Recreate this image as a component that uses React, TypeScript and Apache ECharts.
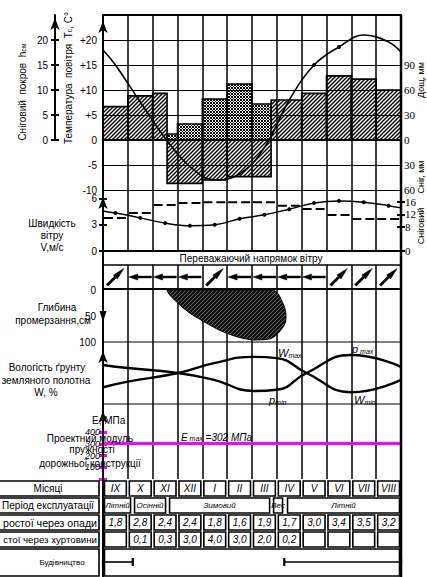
import React, { useEffect, useRef } from 'react';
import * as echarts from 'echarts';

const FONT = '"Liberation Sans", Arial, sans-serif';
const SERIF = '"Liberation Serif", "DejaVu Serif", serif';

// ---- months ----
const months = ['IX', 'X', 'XI', 'XII', 'I', 'II', 'III', 'IV', 'V', 'VI', 'VII', 'VIII'];

// ---- tick labels ----
const tempTicks = [-10, -5, 0, 5, 10, 15, 20];
const precipTicks = [-60, -30, 0, 30, 60, 90];
const coverTicks = [0, 5, 10, 15, 20];
const windTicks = [0, 3, 6];
const windSnowTicks = [0, 8, 12, 16];
const frostTicks = [0, 50, 100];
const eTicks = [100, 200, 300, 400];
const eTickMarks = [0, 100, 200, 300, 400];

// ---- air temperature (month position, °C) ----
const tempPos = [0, 0.5, 1.5, 2.5, 3.5, 4.5, 5.5, 6.5, 7.5, 8.5, 9.5, 10.5, 11.5, 12];
const tempC = [18, 15, 7.6, 0.4, -5.3, -8, -6.8, -1.5, 8, 15, 18.6, 21, 19.6, 17.6];

// ---- rain, mm ----
const rainFrom = [0, 1, 2, 6.77, 8, 9, 10, 11];
const rainTo = [1, 2, 2.58, 8, 9, 10, 11, 12];
const rainMm = [40, 53, 56, 48, 56, 77, 73, 60];

// ---- snow, mm ----
const snowFrom = [2.58, 4, 5];
const snowTo = [4, 5, 6.77];
const snowMm = [52, 48, 44];

// ---- snow cover, cm ----
const coverFrom = [2.58, 3, 4, 5, 6];
const coverTo = [3, 4, 5, 6, 6.77];
const coverCm = [1.2, 3.2, 8.2, 11.2, 7.2];

// ---- wind ----
const windPos = [0, 0.5, 1.5, 2.5, 3.5, 4.5, 5.5, 6.5, 7.5, 8.5, 9.5, 10.5, 11.5, 12];
const windSpeed = [4.6, 4.35, 3.8, 3.2, 2.9, 3.0, 3.7, 4.15, 4.8, 5.5, 5.75, 5.6, 5.2, 4.95];
const windSnow = [10.8, 12.5, 15.1, 15.7, 16, 16, 16, 14.8, 13.8, 11.8, 10.5, 10.5];
const windDirDeg = [45, 180, 180, 180, 45, 180, 180, 180, 180, 45, 45, 45];

// ---- frost depth outline (month position, cm) ----
const frostMonth = [2.58, 3.22, 4.03, 5.03, 6.04, 6.73, 7.21, 7.37, 7.25, 6.85, 5.9, 4.7, 3.5];
const frostCm = [0, 34, 60, 84, 96, 94, 74, 54, 26, 0, 0, 0, 0];

// ---- soil moisture (relative) ----
const moistPos = [0, 1, 3.02, 4.47, 6.08, 7.0, 8.2, 10.0, 12];
const moistW = [27, 36, 50, 66, 76, 74, 50, 19, 39];
const moistP = [63, 58, 50, 39, 21, 23, 50, 79, 60];

// ---- design modulus ----
const eMax = 302;

// ---- table ----
const periodFrom = [0, 1.21, 2.62, 6.81, 7.37];
const periodTo = [1.17, 2.58, 6.77, 7.29, 12];
const periodName = ['Літній', 'Осінній', 'Зимовий', 'Вес', 'Літній'];
const rainDowntime = ['1,8', '2,8', '2,4', '2,4', '1,8', '1,6', '1,9', '1,7', '3,0', '3,4', '3,5', '3,2'];
const stormDowntime = ['', '0,1', '0,3', '3,0', '4,0', '3,0', '2,0', '0,2', '', '', '', ''];
const buildFrom = [0, 7.3];
const buildTo = [1.2, 12];
const rowLabels = ['Місяці', 'Період експлуатації', 'ростої через опади', 'стої через хуртовини', 'Будівництво'];

function tile(draw: (g: CanvasRenderingContext2D) => void, w: number, h: number): any {
  const c = document.createElement('canvas');
  c.width = w;
  c.height = h;
  const g = c.getContext('2d') as CanvasRenderingContext2D;
  draw(g);
  return { image: c.toDataURL(), repeat: 'repeat', imageWidth: w, imageHeight: h };
}

function buildOption(): any {
  const hatch = tile((g) => {
    g.strokeStyle = '#000';
    g.lineWidth = 1.4;
    g.beginPath();
    g.moveTo(0, 4); g.lineTo(4, 0);
    g.moveTo(-1, 1); g.lineTo(1, -1);
    g.moveTo(3, 5); g.lineTo(5, 3);
    g.stroke();
  }, 4, 4);
  const checker = tile((g) => {
    g.fillStyle = '#000';
    g.fillRect(0, 0, 2, 2);
    g.fillRect(2, 2, 1, 1);
  }, 3, 3);
  const frostFill = tile((g) => {
    g.fillStyle = '#111';
    g.fillRect(0, 0, 4, 4);
    g.strokeStyle = '#777';
    g.lineWidth = 0.8;
    g.beginPath();
    g.moveTo(0, 4); g.lineTo(4, 0);
    g.stroke();
  }, 4, 4);

  const lbl = { color: '#000', fontFamily: FONT, fontSize: 10 };

  const grids = [
    { left: 103, top: 15, width: 298, height: 175 },
    { left: 55, top: 15, width: 1, height: 125 },
    { left: 103, top: 190, width: 298, height: 61 },
    { left: 103, top: 265, width: 298, height: 24 },
    { left: 103, top: 290, width: 298, height: 52 },
    { left: 103, top: 342, width: 298, height: 62 },
    { left: 103, top: 404, width: 298, height: 75 },
    { left: 103, top: 480, width: 298, height: 97 },
  ];
  const vLines = [true, false, true, true, true, true, true, false];
  const xAxis = grids.map((_, g) => ({
    gridIndex: g, type: 'value', min: 0, max: g === 1 ? 1 : 12, interval: 1,
    axisLine: { show: false }, axisTick: { show: false }, axisLabel: { show: false },
    splitLine: { show: vLines[g], lineStyle: { color: '#000', width: 1.5 } },
  }));

  const hiddenY = (g: number, min: number, max: number, extra: any = {}) => ({ gridIndex: g, type: 'value', min, max, show: false, ...extra });
  const arrowLine = (offset: number) => ({ show: true, symbol: ['none', 'arrow'], symbolSize: [7, 12], symbolOffset: [0, offset], lineStyle: { color: '#000', width: 2 } });
  const insideTicks = (g: number, min: number, max: number, interval: number, vals: number[], pos: string, color = '#000', width = 2) => ({
    gridIndex: g, type: 'value', min, max, interval, position: pos,
    axisLine: { show: false }, axisLabel: { show: false }, splitLine: { show: false },
    axisTick: { show: true, inside: true, length: 4, customValues: vals, lineStyle: { color, width } },
  });

  const yAxis: any[] = [
    // 0 temperature
    {
      gridIndex: 0, type: 'value', min: -10, max: 25, interval: 5, position: 'left',
      axisLine: arrowLine(-6), axisTick: { show: false },
      axisLabel: { ...lbl, margin: 6, formatter: (v: number) => (tempTicks.includes(v) ? (v > 0 ? '+' + v : String(v)) : '') },
      splitLine: { show: true, lineStyle: { color: '#000', width: 1 } },
    },
    // 1 precipitation
    {
      gridIndex: 0, type: 'value', min: -60, max: 150, interval: 30, position: 'right',
      axisLine: { show: true, lineStyle: { color: '#000', width: 2 } }, axisTick: { show: false },
      axisLabel: { ...lbl, fontFamily: SERIF, fontSize: 11, margin: 3, formatter: (v: number) => (precipTicks.includes(v) ? String(Math.abs(v)) : '') },
      splitLine: { show: false },
    },
    // 2 snow cover scale for bars
    hiddenY(0, -10, 25),
    // 3 snow cover visible axis
    {
      gridIndex: 1, type: 'value', min: 0, max: 25, interval: 5, position: 'left',
      axisLine: arrowLine(-3),
      axisTick: { show: true, length: 4, customValues: coverTicks, lineStyle: { color: '#000', width: 2 } },
      axisLabel: { ...lbl, margin: 7, formatter: (v: number) => (coverTicks.includes(v) ? String(v) : '') },
      splitLine: { show: false },
    },
    // 4
    insideTicks(1, 0, 25, 5, coverTicks, 'left'),
    // 5 wind speed
    {
      gridIndex: 2, type: 'value', min: 0, max: 7, interval: 1, position: 'left',
      axisLine: arrowLine(-7),
      axisTick: { show: true, length: 4, customValues: windTicks, lineStyle: { color: '#000', width: 2 } },
      axisLabel: { ...lbl, margin: 6, formatter: (v: number) => (windTicks.includes(v) ? String(v) : '') },
      splitLine: { show: false },
    },
    // 6
    insideTicks(2, 0, 7, 1, windTicks, 'left'),
    // 7 wind right
    {
      gridIndex: 2, type: 'value', min: 0, max: 20, interval: 4, position: 'right',
      axisLine: { show: true, lineStyle: { color: '#000', width: 2 } },
      axisTick: { show: true, length: 4, customValues: windSnowTicks, lineStyle: { color: '#000', width: 2 } },
      axisLabel: { ...lbl, fontFamily: SERIF, fontSize: 11, margin: 4, formatter: (v: number) => (windSnowTicks.includes(v) ? String(v) : '') },
      splitLine: { show: false },
    },
    // 8
    insideTicks(2, 0, 20, 4, windSnowTicks, 'right'),
    // 9 direction row
    hiddenY(3, 0, 1),
    // 10 frost depth
    {
      gridIndex: 4, type: 'value', inverse: true, min: 0, max: 100, interval: 50, position: 'left',
      axisLine: { show: false }, axisTick: { show: false },
      axisLabel: { ...lbl, margin: 7, formatter: (v: number) => (frostTicks.includes(v) ? String(v) : '') },
      splitLine: { show: false },
    },
    // 11 moisture
    {
      gridIndex: 5, type: 'value', min: 0, max: 100, position: 'left',
      axisLine: arrowLine(-9), axisTick: { show: false }, axisLabel: { show: false }, splitLine: { show: false },
    },
    // 12 E modulus
    {
      gridIndex: 6, type: 'value', min: 0, max: 640, interval: 100, position: 'left',
      axisLine: arrowLine(-7),
      axisTick: { show: true, length: 4, customValues: eTickMarks, lineStyle: { color: '#ff00ff', width: 3 } },
      axisLabel: { ...lbl, fontSize: 9, fontStyle: 'italic', margin: 3, formatter: (v: number) => (eTicks.includes(v) ? String(v) : '') },
      splitLine: { show: false },
    },
    // 13
    insideTicks(6, 0, 640, 100, eTickMarks, 'left', '#ff00ff', 3),
    // 14 table
    hiddenY(7, 0, 97, { inverse: true }),
  ];

  const barItem = (fill: any) => (params: any, api: any) => {
    const a = api.coord([api.value(0), api.value(2)]);
    const b = api.coord([api.value(1), 0]);
    return {
      type: 'rect',
      shape: { x: Math.min(a[0], b[0]), y: Math.min(a[1], b[1]), width: Math.abs(b[0] - a[0]), height: Math.abs(b[1] - a[1]) },
      style: { fill, stroke: '#000', lineWidth: 1.6 },
    };
  };

  const textStyle = (text: string, x: number, y: number, size: number, italic: boolean, extra: any = {}) => ({
    text, x, y, fill: '#000', fontFamily: FONT, fontSize: size, fontStyle: italic ? 'italic' : 'normal',
    align: 'center', verticalAlign: 'middle', textAlign: 'center', textVerticalAlign: 'middle', ...extra,
  });

  const rowTop = [1, 18, 35, 52, 69];
  const rowH = [15, 15, 15, 15, 27];

  const cellSeries = (from: number[], to: number[], texts: string[], row: number, size: number) => ({
    type: 'custom', xAxisIndex: 7, yAxisIndex: 14, silent: true, z: 3,
    data: from.map((f, i) => [f, to[i]]),
    renderItem: (params: any, api: any) => {
      const a = api.coord([api.value(0), rowTop[row]]);
      const b = api.coord([api.value(1), rowTop[row] + rowH[row]]);
      const t = texts[params.dataIndex] || '';
      return {
        type: 'group',
        children: [
          { type: 'rect', shape: { x: a[0] + 1.5, y: a[1], width: b[0] - a[0] - 3, height: b[1] - a[1] }, style: { fill: '#fff', stroke: '#000', lineWidth: 1.6 } },
          { type: 'text', style: textStyle(t, (a[0] + b[0]) / 2, (a[1] + b[1]) / 2, size, true) },
        ],
      };
    },
  });

  const monthFrom = months.map((_, i) => i);
  const monthTo = months.map((_, i) => i + 1);

  const series: any[] = [
    { type: 'custom', name: 'rain', xAxisIndex: 0, yAxisIndex: 1, z: 2, data: rainFrom.map((f, i) => [f, rainTo[i], rainMm[i]]), renderItem: barItem(hatch) },
    { type: 'custom', name: 'snow', xAxisIndex: 0, yAxisIndex: 1, z: 2, data: snowFrom.map((f, i) => [f, snowTo[i], -snowMm[i]]), renderItem: barItem(hatch) },
    { type: 'custom', name: 'cover', xAxisIndex: 0, yAxisIndex: 2, z: 2, data: coverFrom.map((f, i) => [f, coverTo[i], coverCm[i]]), renderItem: barItem(checker) },
    {
      type: 'line', name: 'temp', xAxisIndex: 0, yAxisIndex: 0, z: 5, smooth: 0.4,
      data: tempPos.map((x, i) => ({ value: [x, tempC[i]], symbol: i === 9 || i === 10 ? 'circle' : 'none' })),
      symbolSize: 4, itemStyle: { color: '#000' }, lineStyle: { color: '#000', width: 1.6 },
    },
    {
      type: 'line', name: 'wind', xAxisIndex: 2, yAxisIndex: 5, z: 5, smooth: 0.4,
      data: windPos.map((x, i) => ({ value: [x, windSpeed[i]], symbol: i === 0 || i === windPos.length - 1 ? 'none' : 'circle' })),
      symbolSize: 4, itemStyle: { color: '#000' }, lineStyle: { color: '#000', width: 1.5 },
    },
    {
      type: 'custom', name: 'windSnow', xAxisIndex: 2, yAxisIndex: 7, z: 4,
      data: windSnow.map((v, i) => [i, v]),
      renderItem: (params: any, api: any) => {
        const a = api.coord([api.value(0), api.value(1)]);
        const b = api.coord([api.value(0) + 1, api.value(1)]);
        return { type: 'line', shape: { x1: a[0] + 1, y1: a[1], x2: b[0] - 1, y2: b[1] }, style: { stroke: '#000', lineWidth: 2, lineDash: [9, 4] } };
      },
    },
    {
      type: 'custom', name: 'dir', xAxisIndex: 3, yAxisIndex: 9, z: 4,
      data: windDirDeg.map((d, i) => [i, d]),
      renderItem: (params: any, api: any) => {
        const ang = (api.value(1) * Math.PI) / 180;
        const c = api.coord([api.value(0) + 0.5, 0.5]);
        const horizontal = Math.abs(Math.sin(ang)) < 0.1;
        const half = horizontal ? 11.5 : 12;
        const dx = Math.cos(ang);
        const dy = -Math.sin(ang);
        const tip = [c[0] + dx * half, c[1] + dy * half];
        const tail = [c[0] - dx * half, c[1] - dy * half];
        const head = horizontal ? 9 : 12;
        const hw = horizontal ? 3 : 2.8;
        const base = [tip[0] - dx * head, tip[1] - dy * head];
        const nx = -dy;
        const ny = dx;
        return {
          type: 'group',
          children: [
            { type: 'line', shape: { x1: tail[0], y1: tail[1], x2: base[0], y2: base[1] }, style: { stroke: '#000', lineWidth: horizontal ? 2.4 : 2.8 } },
            { type: 'polygon', shape: { points: [tip, [base[0] + nx * hw, base[1] + ny * hw], [base[0] - nx * hw, base[1] - ny * hw]] }, style: { fill: '#000', stroke: '#000', lineWidth: 0.5 } },
          ],
        };
      },
    },
    {
      type: 'custom', name: 'frost', xAxisIndex: 4, yAxisIndex: 10, z: 3,
      data: frostMonth.map((m, i) => [m, frostCm[i]]),
      renderItem: (params: any, api: any) => {
        if (params.dataIndex !== 0) return null;
        const pts = frostMonth.map((m, i) => api.coord([m, frostCm[i]]));
        const xs = pts.map((p: number[]) => p[0]);
        const ys = pts.map((p: number[]) => p[1]);
        const box = [[Math.min(...xs), Math.min(...ys)], [Math.max(...xs), Math.max(...ys)]];
        return { type: 'polygon', shape: { points: pts, smooth: 0.4, smoothConstraint: box }, style: { fill: frostFill, stroke: '#000', lineWidth: 1 } };
      },
    },
    {
      type: 'line', name: 'W', xAxisIndex: 5, yAxisIndex: 11, z: 4, smooth: 0.5, showSymbol: false,
      data: moistPos.map((x, i) => [x, moistW[i]]), lineStyle: { color: '#000', width: 2.4 },
    },
    {
      type: 'line', name: 'p', xAxisIndex: 5, yAxisIndex: 11, z: 4, smooth: 0.5, showSymbol: false,
      data: moistPos.map((x, i) => [x, moistP[i]]), lineStyle: { color: '#000', width: 2.4 },
    },
    {
      type: 'line', name: 'Emax', xAxisIndex: 6, yAxisIndex: 12, z: 4, showSymbol: false,
      data: [[0, eMax], [12, eMax]], lineStyle: { color: '#ff00ff', width: 3 },
    },
    cellSeries(monthFrom, monthTo, months, 0, 10),
    cellSeries(periodFrom, periodTo, periodName, 1, 8),
    cellSeries(monthFrom, monthTo, rainDowntime, 2, 10),
    cellSeries(monthFrom, monthTo, stormDowntime, 3, 10),
    cellSeries([0], [12], [''], 4, 10),
    {
      type: 'custom', name: 'build', xAxisIndex: 7, yAxisIndex: 14, z: 5,
      data: buildFrom.map((f, i) => [f, buildTo[i]]),
      renderItem: (params: any, api: any) => {
        const a = api.coord([api.value(0), 82]);
        const b = api.coord([api.value(1), 82]);
        return {
          type: 'group',
          children: [
            { type: 'line', shape: { x1: a[0], y1: a[1], x2: b[0], y2: b[1] }, style: { stroke: '#000', lineWidth: 1.6 } },
            { type: 'line', shape: { x1: a[0], y1: a[1] - 4, x2: a[0], y2: a[1] + 4 }, style: { stroke: '#000', lineWidth: 2.2 } },
            { type: 'line', shape: { x1: b[0], y1: b[1] - 4, x2: b[0], y2: b[1] + 4 }, style: { stroke: '#000', lineWidth: 2.2 } },
          ],
        };
      },
    },
  ];

  const line = (x1: number, y1: number, x2: number, y2: number, w: number, color = '#000') => ({
    type: 'line', z: 15, silent: true, shape: { x1, y1, x2, y2 }, style: { stroke: color, lineWidth: w },
  });
  const txt = (text: string, x: number, y: number, size: number, opts: any = {}) => {
    const style: any = {
      text, x: 0, y: 0, fill: '#000', fontFamily: opts.family || FONT, fontSize: size,
      fontStyle: opts.italic ? 'italic' : 'normal',
      align: opts.align || 'center', textAlign: opts.align || 'center',
      verticalAlign: 'middle', textVerticalAlign: 'middle',
    };
    if (opts.rich) style.rich = opts.rich;
    return { type: 'text', z: 20, silent: true, x, y, rotation: opts.rotation || 0, style };
  };
  const sub = (size: number, italic = false) => ({
    b: { fill: '#000', fontSize: size, fontFamily: FONT, fontStyle: italic ? 'italic' : 'normal', verticalAlign: 'bottom' },
    s: { fill: '#000', fontSize: Math.round(size * 0.65), fontFamily: FONT, fontStyle: italic ? 'italic' : 'normal', verticalAlign: 'bottom' },
    n: { fill: '#000', fontSize: size, fontFamily: FONT, fontStyle: italic ? 'italic' : 'normal', verticalAlign: 'bottom' },
  });

  const rowAbsTop = rowTop.map((t) => 480 + t);
  const tableLeft: any[] = [];
  rowLabels.forEach((t, i) => {
    tableLeft.push({ type: 'rect', z: 12, silent: true, shape: { x: -3, y: rowAbsTop[i], width: 102, height: rowH[i] }, style: { fill: '#fff', stroke: '#000', lineWidth: 1.6 } });
  });
  const labelX = [48, 48, 97, 97, 62];
  const labelAlign = ['center', 'center', 'right', 'right', 'center'];
  const labelSize = [10, 10, 10.6, 9.7, 8];
  rowLabels.forEach((t, i) => {
    tableLeft.push(txt(t, labelX[i], rowAbsTop[i] + rowH[i] / 2, labelSize[i], { align: labelAlign[i] }));
  });

  const graphic: any[] = [
    line(103, 15, 103, 577, 2),
    line(401, 15, 401, 577, 2.5),
    line(103, 15, 401, 15, 2),
    line(103, 140, 401, 140, 2),
    line(103, 251, 401, 251, 2),
    line(103, 265, 401, 265, 1.5),
    line(103, 289, 401, 289, 2),
    line(103, 342, 401, 342, 1),
    line(103, 404, 401, 404, 1),
    { type: 'polygon', z: 16, silent: true, shape: { points: [[99.5, 311], [106.5, 311], [103, 322]] }, style: { fill: '#000' } },
    // rotated titles
    txt('{n|Сніговий  покров  h}{s|см}', 22, 92, 10, { rotation: Math.PI / 2, rich: sub(10) }),
    txt('{n|Температура  повітря  T}{s|c}{n|, C°}', 68, 78, 10, { rotation: Math.PI / 2, rich: sub(10) }),
    txt('Дощ, мм', 421, 80, 9, { rotation: Math.PI / 2 }),
    txt('Сніг, мм', 421, 177, 9, { rotation: Math.PI / 2 }),
    txt('Сніговий', 421, 226, 9, { rotation: Math.PI / 2 }),
    // wind
    txt('Швидкість', 52, 223, 10),
    txt('вітру', 52, 235, 10),
    txt('V,м/с', 52, 247, 10),
    txt('Переважаючий напрямок вітру', 251, 258, 10),
    // frost
    txt('Глибина', 57, 307, 10),
    txt('промерзання,см', 53, 320, 10),
    // moisture
    txt('Вологість ґрунту', 47, 367, 10),
    txt('земляного полотна', 46, 380, 10),
    txt('W, %', 46, 392, 10),
    txt('{b|W}{s|max}', 278, 353, 11, { align: 'left', rich: sub(11, true) }),
    txt('{b|p}{s|min}', 269, 400, 11, { align: 'left', rich: sub(11, true) }),
    txt('{b|p}{s| max}', 352, 349, 11, { align: 'left', rich: sub(11, true) }),
    txt('{b|W}{s|min}', 354, 400, 11, { align: 'left', rich: sub(11, true) }),
    // modulus
    txt('E, МПа', 92, 420, 10, { align: 'left' }),
    txt('Проектний модуль', 90, 438, 10),
    txt('пружності', 92, 449, 10),
    txt('дорожньої конструкції', 90, 463, 10),
    txt('{b|E}{s| max}{n| =' + eMax + ' МПа}', 181, 437, 10, { align: 'left', italic: true, rich: sub(10, true) }),
    ...tableLeft,
  ];

  return {
    animation: false,
    backgroundColor: '#fff',
    textStyle: { fontFamily: FONT },
    grid: grids,
    xAxis,
    yAxis,
    series,
    graphic,
  };
}

export default function App() {
  const ref = useRef<HTMLDivElement>(null);
  useEffect(() => {
    document.body.style.margin = '0';
    const chart = echarts.init(ref.current as HTMLDivElement, null, { renderer: 'svg' });
    chart.setOption(buildOption());
    return () => chart.dispose();
  }, []);
  return <div ref={ref} style={{ position: 'absolute', left: 0, top: 0, width: 427, height: 577 }} />;
}
